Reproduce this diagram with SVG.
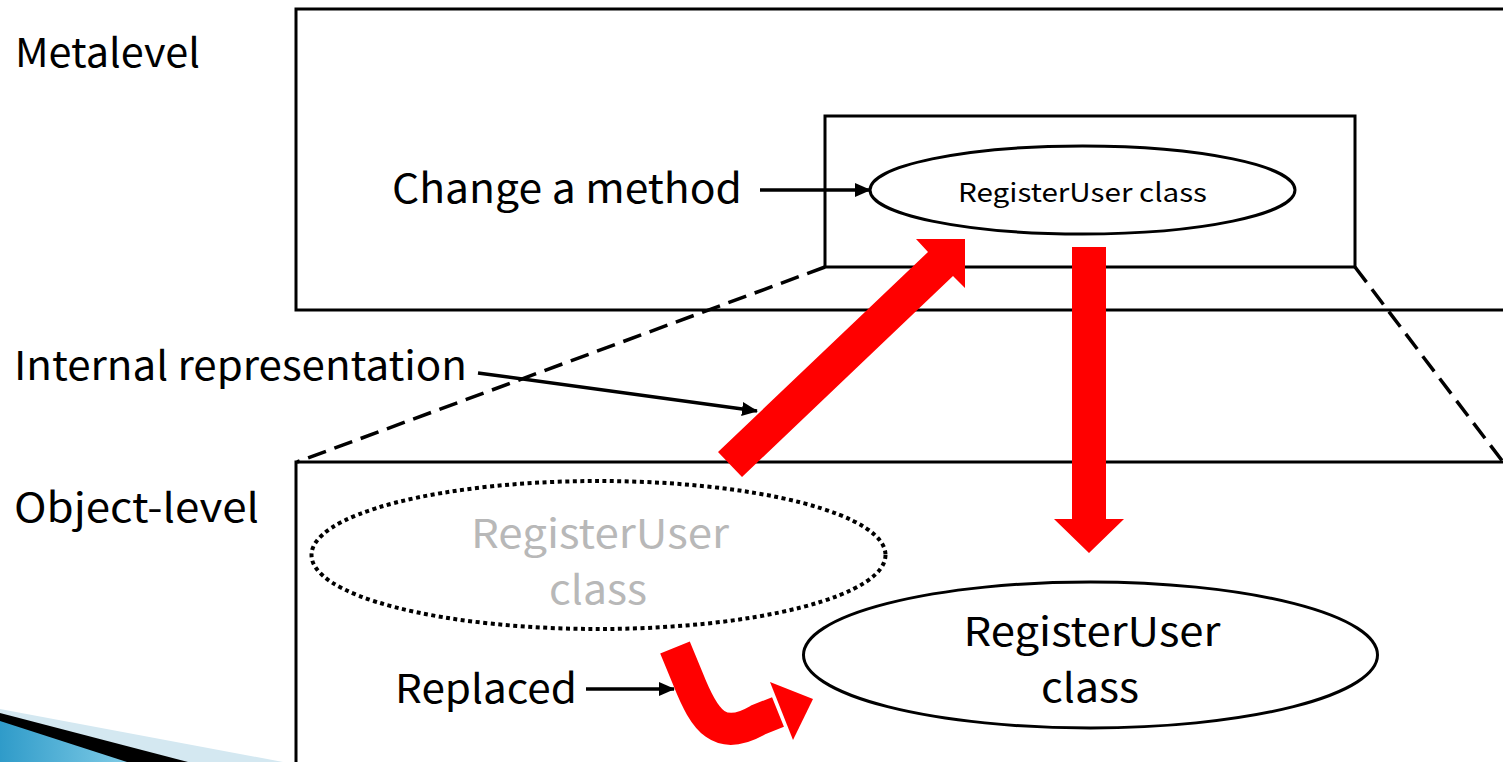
<svg xmlns="http://www.w3.org/2000/svg" width="1503" height="762" viewBox="0 0 1503 762">
  <defs>
    <style>
      .frame { fill: none; stroke: #000; stroke-width: 3; }
      .node { fill: #fff; stroke: #000; stroke-width: 3; }
      .ghost { fill: none; stroke: #000; stroke-width: 4; stroke-dasharray: 4 3.5; }
      .guide { fill: none; stroke: #000; stroke-width: 3.5; stroke-dasharray: 19 9; }
      .lbl { font-family: "Noto Sans CJK JP", "Noto Sans", "Liberation Sans", sans-serif; font-size: 40px; fill: #000; }
      .small { font-size: 26px; }
      .faded { fill: #b8b8b8; }
      .pointer { fill: none; stroke: #000; stroke-width: 3.5; marker-end: url(#tip); }
      .flow { fill: #ff0000; stroke: none; }
    </style>
    <marker id="tip" markerUnits="userSpaceOnUse" markerWidth="16" markerHeight="14" refX="15" refY="7" orient="auto">
      <path d="M0,0 L16,7 L0,14 Z" fill="#000"/>
    </marker>
    <linearGradient id="ornBlue" x1="0" y1="0" x2="1" y2="0">
      <stop offset="0" stop-color="#2f9bc9"/>
      <stop offset="1" stop-color="#7fcbe6"/>
    </linearGradient>
  </defs>

  <rect width="1503" height="762" fill="#fff"/>

  <!-- slide corner ornament -->
  <g id="ornament">
    <polygon points="0,709 283,762 0,762" fill="#d4e8f1"/>
    <polygon points="0,713 188,762 0,762" fill="#000"/>
    <polygon points="0,721 127,762 0,762" fill="url(#ornBlue)"/>
  </g>

  <!-- level frames -->
  <g id="metalevel">
    <rect class="frame" x="296" y="9" width="1220" height="301"/>
    <text class="lbl" x="15" y="67" textLength="185" lengthAdjust="spacingAndGlyphs">Metalevel</text>
  </g>
  <g id="object-level">
    <rect class="frame" x="296" y="462" width="1220" height="320"/>
    <text class="lbl" x="14" y="522" textLength="245" lengthAdjust="spacingAndGlyphs">Object-level</text>
  </g>

  <!-- zoomed-out internal representation box -->
  <g id="internal-box">
    <rect class="frame" x="825" y="116" width="530" height="151"/>
  </g>

  <g id="meta-class">
    <ellipse class="node" cx="1082.5" cy="190" rx="212.5" ry="44"/>
    <text class="lbl small" x="1082.5" y="202" text-anchor="middle" textLength="249" lengthAdjust="spacingAndGlyphs">RegisterUser class</text>
  </g>

  <g id="old-class">
    <ellipse class="ghost" cx="598.5" cy="555" rx="287" ry="74"/>
    <text class="lbl faded" x="600" y="548" text-anchor="middle" textLength="258" lengthAdjust="spacingAndGlyphs">RegisterUser</text>
    <text class="lbl faded" x="598" y="604" text-anchor="middle" textLength="98" lengthAdjust="spacingAndGlyphs">class</text>
  </g>

  <g id="new-class">
    <ellipse class="node" cx="1090.5" cy="655" rx="287" ry="73"/>
    <text class="lbl" x="1092" y="646" text-anchor="middle" textLength="257" lengthAdjust="spacingAndGlyphs">RegisterUser</text>
    <text class="lbl" x="1090" y="702" text-anchor="middle" textLength="98" lengthAdjust="spacingAndGlyphs">class</text>
  </g>

  <g id="change-label">
    <text class="lbl" x="392" y="203" textLength="350" lengthAdjust="spacingAndGlyphs">Change a method</text>
  </g>
  <g id="internal-label">
    <text class="lbl" x="14" y="380" textLength="453" lengthAdjust="spacingAndGlyphs">Internal representation</text>
  </g>
  <g id="replaced-label">
    <text class="lbl" x="395" y="703" textLength="182" lengthAdjust="spacingAndGlyphs">Replaced</text>
  </g>

  <!-- connectors -->
  <g id="connectors">
    <!-- projection guides -->
    <line class="guide" x1="825" y1="267" x2="297" y2="462"/>
    <line class="guide" x1="1355" y1="267" x2="1503" y2="462"/>

    <!-- label pointers -->
    <line class="pointer" x1="760" y1="190" x2="870" y2="190"/>
    <line class="pointer" x1="478" y1="373" x2="757" y2="411"/>
    <line class="pointer" x1="586" y1="689" x2="674" y2="689"/>

    <!-- reflection: object level up to metalevel -->
    <polygon class="flow" points="718,452 928,252 916,239 965,239 965,288 953,276 742,477"/>
    <!-- reflection: metalevel back down to object level -->
    <polygon class="flow" points="1072,247 1106,247 1106,519 1124,519 1089,553 1054,519 1072,519"/>
    <!-- replacement -->
    <path d="M675,647.5 L688,679 C705,722 720,742 758,720 L778,712" fill="none" stroke="#ff0000" stroke-width="32"/>
    <polygon class="flow" points="770,682 813,699 793,740"/>
  </g>
</svg>
